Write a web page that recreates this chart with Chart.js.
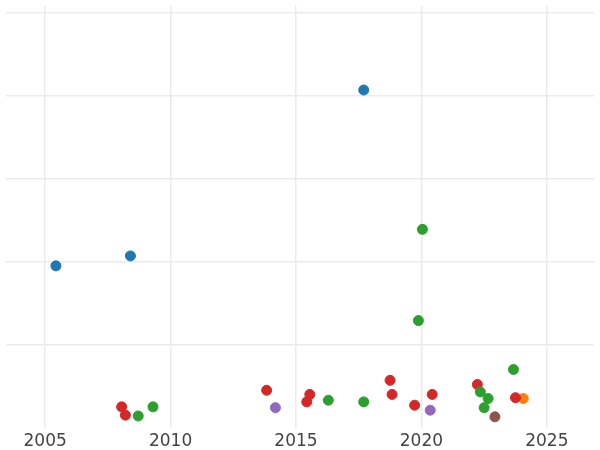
<!DOCTYPE html>
<html><head><meta charset="utf-8">
<script src="https://cdn.jsdelivr.net/npm/chart.js@4"></script>
<style>body{margin:0;background:#fff}#wrap{width:600px;height:450px}</style>
</head><body><div id="wrap"><canvas id="myChart"></canvas></div>
<script>
// series: [year, value]
var blue = [[2005.43,1.95],[2008.4,2.07],[2017.7,4.07]];
var green = [[2020.04,2.39],[2019.88,1.29],[2023.67,0.70],[2009.3,0.25],[2008.71,0.14],[2016.29,0.33],[2017.7,0.31],[2022.35,0.43],[2022.66,0.35],[2022.5,0.24]];
var red = [[2008.05,0.25],[2008.2,0.15],[2013.83,0.45],[2015.55,0.40],[2015.43,0.31],[2018.75,0.57],[2018.83,0.40],[2019.73,0.27],[2020.43,0.40],[2022.23,0.52],[2023.75,0.36]];
var purple = [[2014.18,0.24],[2020.35,0.21]];
var orange = [[2024.06,0.35]];
var brown = [[2022.93,0.13]];
var xTicks = [2005,2010,2015,2020,2025];

function ds(pts,color){
  return {data: pts.map(function(p){return {x:p[0],y:p[1]};}),
    backgroundColor: color, borderColor: color, pointRadius: 5, pointHoverRadius: 5};
}
var ctx = document.getElementById("myChart").getContext('2d');
new Chart(ctx, {
  type: 'scatter',
  data: {datasets: [ds(blue,'#1f77b4'),ds(green,'#2ca02c'),ds(red,'#d62728'),
    ds(purple,'#9467bd'),ds(orange,'#ff7f0e'),ds(brown,'#8c564b')]},
  options: {
    responsive: true, maintainAspectRatio: false, animation: false,
    layout: {padding: {left: -6, right: -6, top: -6, bottom: -6}},
    plugins: {legend: {display: false}, tooltip: {enabled: false}},
    scales: {
      x: {min: 2003.44, max: 2026.88,
        afterBuildTicks: function(a){a.ticks = xTicks.map(function(v){return {value:v};});},
        grid: {color: '#ebebeb', lineWidth: 1.5, drawTicks: false},
        border: {display: false},
        ticks: {color: '#444', font: {family: 'DejaVu Sans', size: 17}, padding: 4, maxRotation: 0,
          callback: function(v){return String(v);}}
      },
      y: {min: 0, max: 5.083, display: true,
        afterBuildTicks: function(a){a.ticks = [1,2,3,4,5].map(function(v){return {value:v};});},
        grid: {color: '#ebebeb', lineWidth: 1.5, drawTicks: false},
        border: {display: false},
        ticks: {display: false}
      }
    }
  }
});
</script></body></html>
